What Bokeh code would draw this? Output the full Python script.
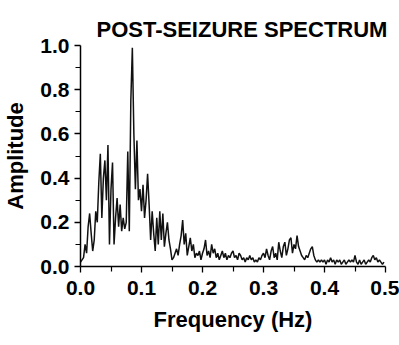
import numpy as np
from bokeh.plotting import figure
from bokeh.models import PrintfTickFormatter, FixedTicker, Range1d
from bokeh.embed import file_html
from bokeh.resources import INLINE

freq_step = 0.0025
amplitude = [
    0.02, 0.03, 0.04, 0.10, 0.06, 0.18, 0.24, 0.15, 0.07, 0.12,
    0.25, 0.20, 0.38, 0.51, 0.22, 0.40, 0.48, 0.30, 0.55, 0.10,
    0.35, 0.47, 0.10, 0.22, 0.31, 0.18, 0.28, 0.16, 0.22, 0.17,
    0.20, 0.52, 0.16, 0.75, 0.99, 0.60, 0.35, 0.57, 0.30, 0.35,
    0.25, 0.37, 0.22, 0.30, 0.42, 0.28, 0.12, 0.25, 0.15, 0.07,
    0.22, 0.10, 0.25, 0.12, 0.24, 0.09, 0.15, 0.20, 0.12, 0.08,
    0.03, 0.04, 0.06, 0.08, 0.05, 0.10, 0.14, 0.21, 0.10, 0.15,
    0.05, 0.09, 0.13, 0.07, 0.10, 0.04, 0.06, 0.05, 0.07, 0.03,
    0.06, 0.08, 0.12, 0.05, 0.07, 0.04, 0.10, 0.06, 0.08, 0.04,
    0.06, 0.03, 0.05, 0.07, 0.04, 0.06, 0.03, 0.05, 0.04, 0.06,
    0.07, 0.04, 0.05, 0.03, 0.06, 0.05, 0.03, 0.04, 0.02, 0.04,
    0.03, 0.05, 0.03, 0.04, 0.02, 0.03, 0.02, 0.04, 0.03, 0.05,
    0.06, 0.04, 0.08, 0.05, 0.03, 0.07, 0.09, 0.04, 0.06, 0.03,
    0.11, 0.07, 0.04, 0.09, 0.11, 0.05, 0.08, 0.12, 0.13, 0.06,
    0.10, 0.08, 0.14, 0.09, 0.07, 0.05, 0.04, 0.03, 0.05, 0.04,
    0.06, 0.08, 0.09, 0.05, 0.03, 0.02, 0.03, 0.02, 0.03, 0.02,
    0.03, 0.01, 0.03, 0.02, 0.04, 0.02, 0.03, 0.01, 0.03, 0.02,
    0.03, 0.01, 0.02, 0.03, 0.01, 0.02, 0.03, 0.02, 0.03, 0.02,
    0.05, 0.02, 0.01, 0.03, 0.01, 0.02, 0.03, 0.01, 0.02, 0.03,
    0.02, 0.04, 0.05, 0.03, 0.04, 0.02, 0.03, 0.02, 0.01, 0.02,
]
frequency = [round(i * freq_step, 4) for i in range(len(amplitude))]

x_ticks = [0.0, 0.1, 0.2, 0.3, 0.4, 0.5]
y_ticks = [0.0, 0.2, 0.4, 0.6, 0.8, 1.0]
x_minor = [0.05, 0.15, 0.25, 0.35, 0.45]
y_minor = [0.1, 0.3, 0.5, 0.7, 0.9]

title_text = "POST-SEIZURE SPECTRUM"
x_label = "Frequency (Hz)"
y_label = "Amplitude"

FONT = "Liberation Sans"

p = figure(width=399, height=345, output_backend="svg", toolbar_location=None,
           x_range=Range1d(0, 0.5), y_range=Range1d(0, 1.0),
           min_border_left=80, min_border_right=14, min_border_top=45,
           min_border_bottom=79, title=title_text)

p.title.text_font = FONT
p.title.text_font_size = "22px"
p.title.text_font_style = "bold"
p.title.text_color = "black"
p.title.align = "left"
p.title.offset = 16
p.title.standoff = 8

p.line(frequency, amplitude, line_color="#111111", line_width=1.5)

p.outline_line_color = None
p.xgrid.visible = False
p.ygrid.visible = False
p.background_fill_color = "white"
p.border_fill_color = "white"

for ax, ticks, minor in ((p.xaxis[0], x_ticks, x_minor), (p.yaxis[0], y_ticks, y_minor)):
    ax.ticker = FixedTicker(ticks=ticks, minor_ticks=minor)
    ax.formatter = PrintfTickFormatter(format="%.1f")
    ax.axis_line_color = "black"
    ax.axis_line_width = 1.5
    ax.major_tick_line_color = "black"
    ax.major_tick_line_width = 1.3
    ax.minor_tick_line_color = "black"
    ax.minor_tick_line_width = 1.2
    ax.major_tick_in = 0
    ax.major_tick_out = 6
    ax.minor_tick_in = 0
    ax.minor_tick_out = 5
    ax.major_label_text_font = FONT
    ax.major_label_text_font_size = "21px"
    ax.major_label_text_font_style = "bold"
    ax.major_label_text_color = "black"
    ax.axis_label_text_font = FONT
    ax.axis_label_text_font_size = "22px"
    ax.axis_label_text_font_style = "bold"
    ax.axis_label_text_color = "black"

p.xaxis.axis_label = x_label
p.yaxis.axis_label = y_label
p.xaxis.major_label_standoff = 8
p.yaxis.major_label_standoff = 5
p.xaxis.axis_label_standoff = 9
p.yaxis.axis_label_standoff = 9

open("out.html", "w").write(file_html(p, INLINE))
